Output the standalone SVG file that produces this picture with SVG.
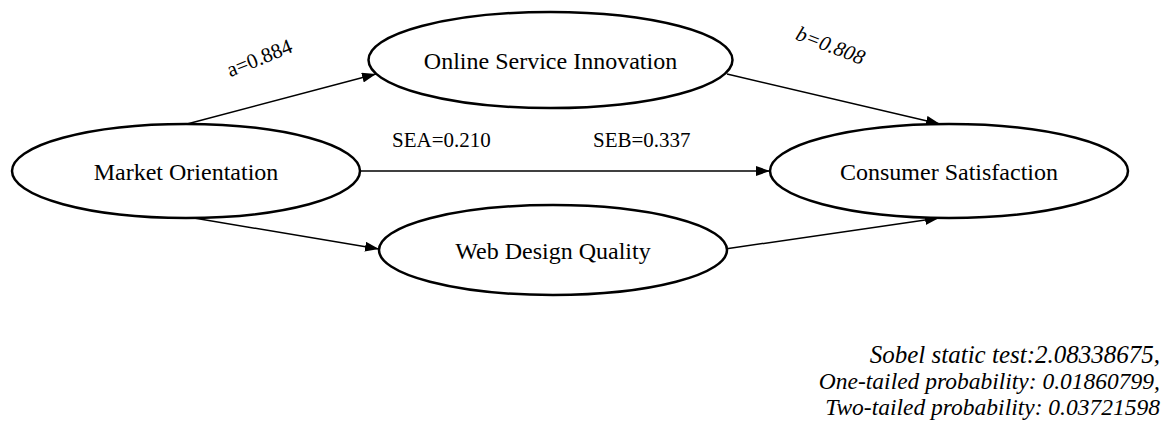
<svg xmlns="http://www.w3.org/2000/svg" width="1173" height="432" viewBox="0 0 1173 432">
<style>
.node ellipse{fill:#fff;stroke:#000;stroke-width:2.5}
.node text{font-family:"Liberation Serif","Times New Roman",serif;font-size:24px;text-anchor:middle;fill:#000}
.edge line{stroke:#000;stroke-width:1.5;marker-end:url(#arr)}
.lbl{font-family:"Liberation Serif","Times New Roman",serif;font-size:21px;fill:#000}
.note{font-family:"Liberation Serif","Times New Roman",serif;font-size:23.5px;font-style:italic;text-anchor:end;fill:#000}
</style>
<defs>
<marker id="arr" viewBox="0 0 14 10" refX="14" refY="5" markerWidth="14" markerHeight="10" markerUnits="userSpaceOnUse" orient="auto">
<path d="M0,0 L14,5 L0,10 z" fill="#000"/>
</marker>
</defs>
<rect width="1173" height="432" fill="#fff"/>
<g id="connectors" class="edge">
<line x1="187" y1="124" x2="376" y2="74"/>
<line x1="727" y1="74" x2="940" y2="124"/>
<line x1="360" y1="171" x2="770" y2="171"/>
<line x1="188" y1="217" x2="379" y2="249"/>
<line x1="725" y1="249" x2="939" y2="218"/>
</g>
<g id="node-mo" class="node">
<ellipse cx="186" cy="171" rx="174" ry="47"/>
<text x="186" y="180">Market Orientation</text>
</g>
<g id="node-osi" class="node">
<ellipse cx="550.5" cy="60" rx="182" ry="48"/>
<text x="550.5" y="69">Online Service Innovation</text>
</g>
<g id="node-cs" class="node">
<ellipse cx="949" cy="171" rx="179" ry="47"/>
<text x="949" y="180">Consumer Satisfaction</text>
</g>
<g id="node-wdq" class="node">
<ellipse cx="553" cy="250" rx="174" ry="45"/>
<text x="553" y="259">Web Design Quality</text>
</g>
<g id="labels">
<text class="lbl" text-anchor="middle" transform="translate(262,64.5) rotate(-22)">a=0.884</text>
<text class="lbl" text-anchor="middle" font-style="italic" transform="translate(828,52) rotate(21)">b=0.808</text>
<text class="lbl" x="392" y="147">SEA=0.210</text>
<text class="lbl" x="593" y="147">SEB=0.337</text>
</g>
<g id="notes">
<text class="note" x="1160" y="363" style="font-size:25px">Sobel static test:2.08338675,</text>
<text class="note" x="1160" y="389">One-tailed probability: 0.01860799,</text>
<text class="note" x="1160" y="415">Two-tailed probability: 0.03721598</text>
</g>
</svg>
